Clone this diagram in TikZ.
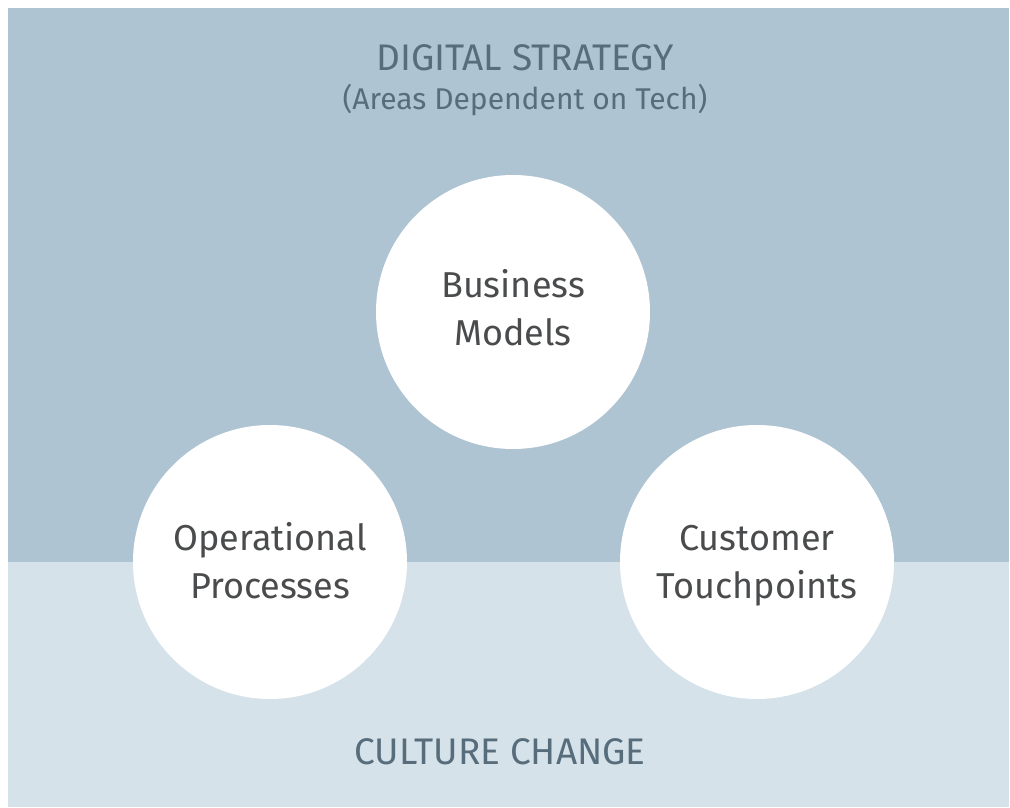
\documentclass[tikz,border=0pt]{standalone}
\usepackage{fontspec}
\setmainfont{Fira Sans}
\definecolor{darkbg}{HTML}{AEC4D2}
\definecolor{lightbg}{HTML}{D6E2EA}
\definecolor{headtxt}{HTML}{576D7C}
\definecolor{circtxt}{HTML}{4A4B4C}
\begin{document}
\begin{tikzpicture}[x=1pt,y=1pt,
  heading/.style={text=headtxt,font=\fontsize{37}{42}\selectfont,inner sep=0pt},
  subhead/.style={text=headtxt,font=\fontsize{30}{35}\selectfont,inner sep=0pt},
  bubble/.style={circle,fill=white,minimum size=274pt,inner sep=0pt},
  bubtext/.style={inner sep=0pt,text=circtxt,align=center,font=\fontsize{36}{48}\selectfont}]
\useasboundingbox (0,0) rectangle (1010,807);
\fill[white] (0,0) rectangle (1010,807);
\fill[lightbg] (8,0) rectangle (1009,245);
\fill[darkbg] (8,245) rectangle (1009,799);
\node[heading] (ds) at (525,749) {DIGITAL STRATEGY};
\node[subhead] (sub) at (525,707) {(Areas Dependent on Tech)};
\node[heading] (cc) at (500,55) {CULTURE CHANGE};
\node[bubble] (bm) at (513,495) {};
\node[bubble] (op) at (270,245) {};
\node[bubble] (ct) at (757,245) {};
\node[bubtext] (bmt) at (bm.center) {\strut Business\\Models\strut};
\node[bubtext] (opt) at ([yshift=-3pt]op.center) {\strut Operational\\Processes\strut};
\node[bubtext] (ctt) at ([yshift=-3pt]ct.center) {\strut Customer\\Touchpoints\strut};
\end{tikzpicture}
\end{document}
